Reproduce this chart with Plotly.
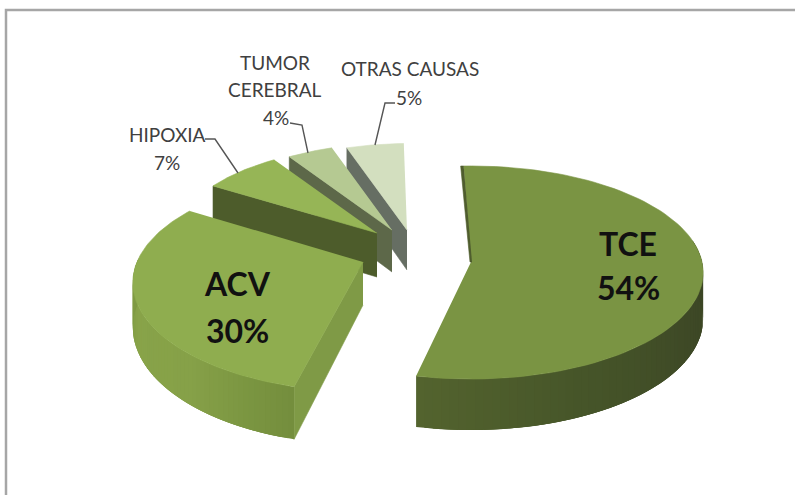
import numpy as np
import plotly.graph_objects as go

# values
CAUSES = ["TCE", "ACV", "HIPOXIA", "TUMOR CEREBRAL", "OTRAS CAUSAS"]
SHARES = [54, 30, 7, 4, 5]

# drawing setup per slice: apex in pixels, radius, perspective, wall depth, colours
APEX = [(471, 262), (363, 262), (377, 233), (392, 230), (407, 230)]
RADIUS_X = [231, 226, 202, 202, 202]
RADIUS_Y = [105.5, 105, 95, 95, 95]
PERSP = [0.0987, 0.19, 0.0987, 0.0987, 0.0987]
TURN = [-2, 0, -1, -1, -1]
DEPTH = [46, 43, 44, 42, 40]
TOP_COLOR = ["#7a9443", "#8fad4f", "#96b556", "#b5c992", "#d3dfbf"]
WALL_COLOR = ["#4f5d2e", "#7f9a46", "#4d5c2b", "#5d6849", "#666e63"]


def project(i, theta):
    # pie plane to screen pixels (far side comes out smaller)
    t = np.radians(np.asarray(theta, dtype=float) + TURN[i])
    w = 1 + PERSP[i] * np.cos(t)
    x = APEX[i][0] + RADIUS_X[i] * np.sin(t) / w
    y = APEX[i][1] - RADIUS_Y[i] * np.cos(t) / w
    return x, y, DEPTH[i] / w


def shade(c1, c2, f):
    a = [int(c1[k:k + 2], 16) for k in (1, 3, 5)]
    b = [int(c2[k:k + 2], 16) for k in (1, 3, 5)]
    m = [round(a[k] + (b[k] - a[k]) * f) for k in range(3)]
    return "rgb(%d,%d,%d)" % tuple(m)


def poly(fig, xs, ys, color, width=0.6):
    fig.add_trace(
        go.Scatter(
            x=list(xs),
            y=list(ys),
            fill="toself",
            fillcolor=color,
            mode="lines",
            line=dict(color=color, width=width),
            hoverinfo="skip",
            showlegend=False,
        )
    )


def add_outer_wall(fig, i, t0, t1, stops):
    # drawn as overlapping bands, each reaches under the next one
    edges = np.linspace(t0, t1, 61)
    for n in range(60):
        seg = np.linspace(edges[n], t1 if n > 57 else edges[n + 3], 6)
        x, y, d = project(i, seg)
        pos = n / 59 * (len(stops) - 1)
        k = min(int(pos), len(stops) - 2)
        color = shade(stops[k], stops[k + 1], pos - k)
        poly(
            fig,
            np.concatenate([x, x[::-1]]),
            np.concatenate([y, (y + d)[::-1]]),
            color,
            width=0,
        )


def add_radial_wall(fig, i, theta, color):
    ax, ay = APEX[i]
    x, y, d = project(i, [theta])
    poly(fig, [ax, x[0], x[0], ax], [ay, y[0], y[0] + d[0], ay + DEPTH[i]], color)


def add_top(fig, i, t0, t1):
    x, y, _ = project(i, np.linspace(t0, t1, 90))
    poly(
        fig,
        np.concatenate([[APEX[i][0]], x]),
        np.concatenate([[APEX[i][1]], y]),
        TOP_COLOR[i],
    )


def main():
    fig = go.Figure()

    ends = np.cumsum(SHARES) / sum(SHARES) * 360
    starts = ends - np.array(SHARES) / sum(SHARES) * 360

    # back to front so the nearer slices cover the walls behind them
    for i in (4, 3, 2):
        add_radial_wall(fig, i, starts[i], WALL_COLOR[i])
        add_top(fig, i, starts[i], ends[i])

    add_radial_wall(fig, 1, starts[1], WALL_COLOR[1])
    add_outer_wall(fig, 1, starts[1], 272, ["#748e3d", "#86a148", "#88a349", "#7d9842"])
    add_top(fig, 1, starts[1], ends[1])

    add_outer_wall(fig, 0, ends[0], 80, ["#53632e", "#465529", "#3e4926", "#3b4424"])
    add_top(fig, 0, starts[0], ends[0])
    # thin dark inner edge of the big slice
    ox, oy, _ = project(0, [starts[0]])
    ax, ay = APEX[0]
    poly(fig, [ox[0], ox[0] - 3, ax - 1, ax + 1], [oy[0], oy[0], ay, ay], "#4f5d2e")

    # data labels, one annotation per line to keep the line spacing
    big = dict(family="Lato", size=32, color="#111111")
    small = dict(family="Lato", size=19, color="#404040")
    labels = [
        ("TCE", 628, 243, big, True),
        ("%d%%" % SHARES[0], 628, 287, big, True),
        ("ACV", 237, 283, big, True),
        ("%d%%" % SHARES[1], 237, 330, big, True),
        ("HIPOXIA", 167, 134, small, False),
        ("%d%%" % SHARES[2], 167, 162, small, False),
        ("TUMOR", 275, 62, small, False),
        ("CEREBRAL", 275, 89, small, False),
        ("%d%%" % SHARES[3], 276, 117, small, False),
        ("OTRAS CAUSAS", 410, 68, small, False),
        ("%d%%" % SHARES[4], 409, 97, small, False),
    ]
    for text, x, y, font, bold in labels:
        fig.add_annotation(
            x=x,
            y=y,
            text="<b>%s</b>" % text if bold else text,
            showarrow=False,
            font=font,
        )

    # leader lines and the chart frame
    leaders = [
        "M205,139 L215,139 L238,173",
        "M290,123 L302,125 L308,153",
        "M395,103 L385,103 L375,145",
    ]
    for path in leaders:
        fig.add_shape(type="path", path=path, line=dict(color="#555555", width=1.4))
    fig.add_shape(
        type="path",
        path="M6,495 L6,10 L795,10",
        line=dict(color="#a6a6a6", width=2.5),
    )

    fig.update_layout(
        width=795,
        height=495,
        margin=dict(l=0, r=0, t=0, b=0),
        paper_bgcolor="white",
        plot_bgcolor="white",
        xaxis=dict(range=[0, 795], visible=False, fixedrange=True),
        yaxis=dict(range=[495, 0], visible=False, fixedrange=True),
    )

    fig.write_html(
        "out.html",
        config=dict(displayModeBar=False),
        post_script="document.body.style.margin = '0';",
    )


if __name__ == "__main__":
    main()
